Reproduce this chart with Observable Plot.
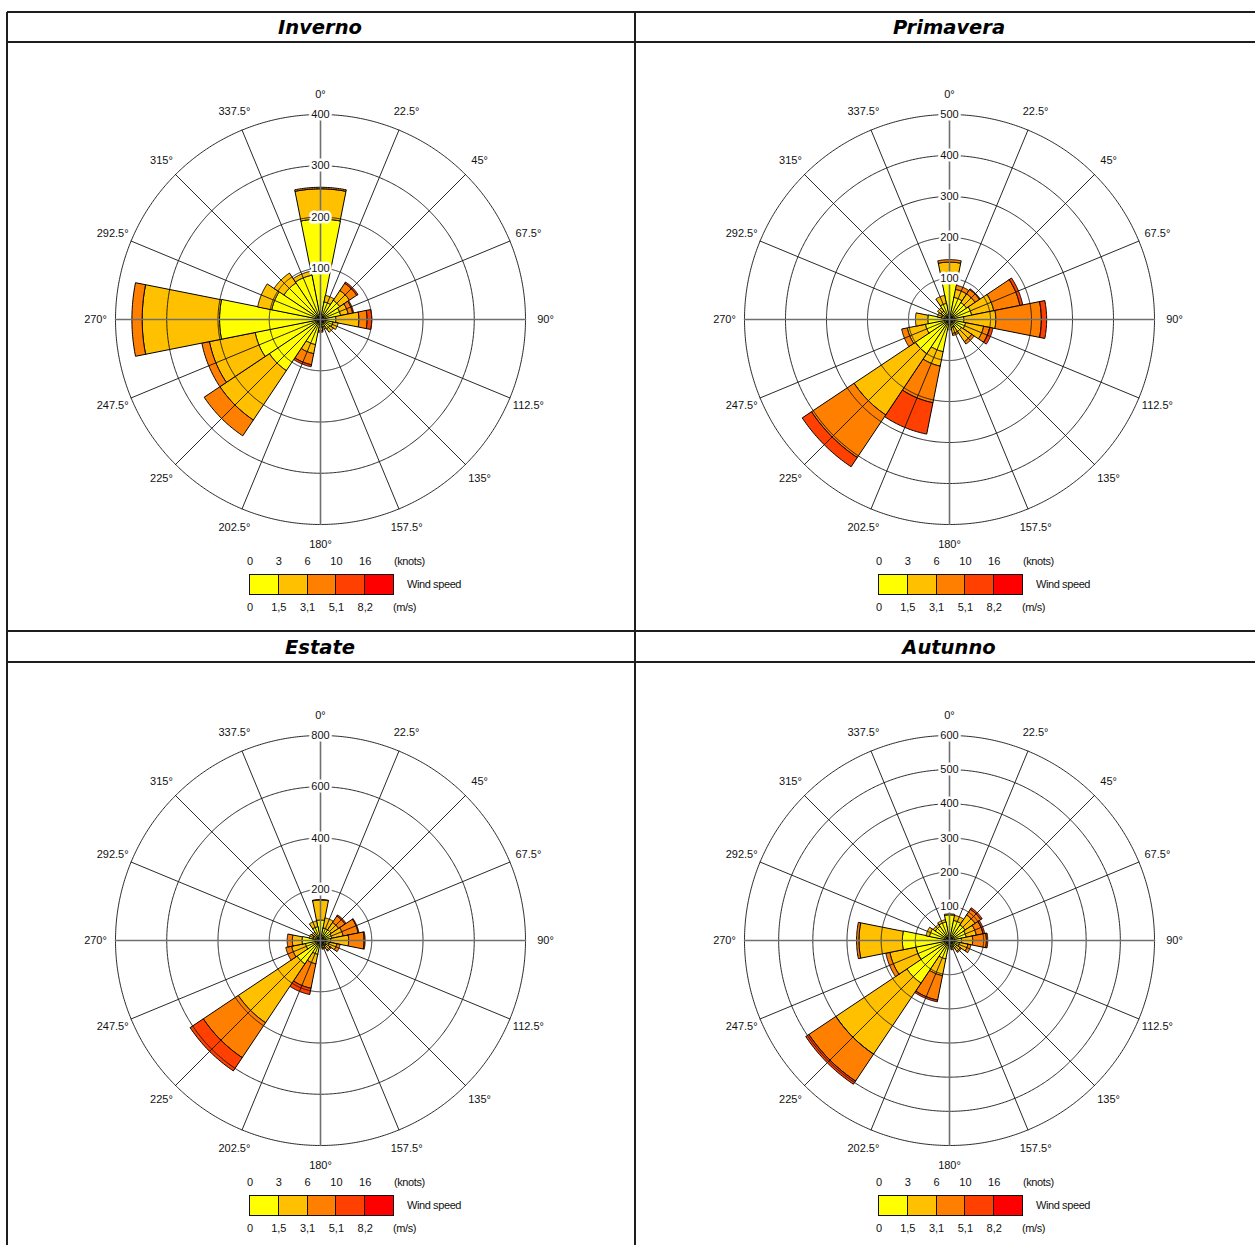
<!DOCTYPE html>
<html><head><meta charset="utf-8">
<script src="https://cdn.jsdelivr.net/npm/d3@7"></script>
<script src="https://cdn.jsdelivr.net/npm/@observablehq/plot@0.6"></script>
<style>
html,body{margin:0;padding:0;background:#fff;}
body{width:1255px;height:1245px;overflow:hidden;position:relative;font-family:"Liberation Sans",Arial,sans-serif;color:#111;}
.line{position:absolute;background:#1e1e1e;}
.title{position:absolute;font-family:"DejaVu Sans",Verdana,sans-serif;font-weight:bold;font-style:italic;font-size:19.5px;color:#000;transform:translate(-50%,-50%);white-space:nowrap;}
.lab{position:absolute;font-size:11px;transform:translate(-50%,-50%);white-space:nowrap;color:#111;}
.labl{position:absolute;font-size:11px;transform:translate(0,-50%);white-space:nowrap;color:#111;letter-spacing:-0.4px;}
.cell{position:absolute;border:1px solid #111;box-sizing:border-box;}
svg{position:absolute;}
</style></head><body>
<script>
// ---------- data ----------
const directions = [0,22.5,45,67.5,90,112.5,135,157.5,180,202.5,225,247.5,270,292.5,315,337.5];
const directionLabels = ["0°","22.5°","45°","67.5°","90°","112.5°","135°","157.5°","180°","202.5°","225°","247.5°","270°","292.5°","315°","337.5°"];
const seasons = ["Inverno","Primavera","Estate","Autunno"];
const speedClasses = ["0-1,5","1,5-3,1","3,1-5,1","5,1-8,2",">8,2"];
const speedColors = ["#FFFF00","#FFC000","#FF8000","#FF4000","#FF0000"];
const knotsTicks = ["0","3","6","10","16"];
const msTicks = ["0","1,5","3,1","5,1","8,2"];

const invernoRings = [100,200,300,400];
const primaveraRings = [100,200,300,400,500];
const estateRings = [200,400,600,800];
const autunnoRings = [100,200,300,400,500,600];

// counts per direction for each speed class
const invernoClass1 = [196,35,45,40,30,25,22,15,15,50,120,130,197,97,86,88];
const invernoClass2 = [59,13,23,15,45,10,8,5,7,18,116,91,151,28,23,8];
const invernoClass3 = [3,0,17,9,16,0,0,0,3,22,37,15,20,0,0,0];
const invernoClass4 = [0,0,3,2,9,0,0,0,0,4,0,0,0,0,0,0];
const invernoClass5 = [0,0,0,0,0,0,0,0,0,0,0,0,0,0,0,0];

const primaveraClass1 = [100,55,50,55,35,40,35,20,15,80,100,60,53,20,25,40];
const primaveraClass2 = [40,20,25,55,78,45,30,15,10,36,180,45,30,10,10,20];
const primaveraClass3 = [6,10,13,65,111,15,7,5,0,91,125,14,0,0,0,0];
const primaveraClass4 = [0,0,2,7,13,8,0,0,0,78,27,0,0,0,0,0];
const primaveraClass5 = [0,0,0,0,0,0,0,0,0,0,0,0,0,0,0,0];

const estateClass1 = [80,50,50,45,40,35,25,20,18,55,110,60,72,30,28,55];
const estateClass2 = [78,40,35,45,70,30,20,10,10,38,276,55,38,15,12,23];
const estateClass3 = [2,0,30,60,60,13,5,5,0,97,164,23,20,0,0,0];
const estateClass4 = [0,0,5,3,4,0,0,0,0,25,62,0,0,0,0,0];
const estateClass5 = [0,0,0,0,0,0,0,0,0,0,0,0,0,0,0,0];

const autunnoClass1 = [75,60,55,50,35,30,25,20,18,55,150,100,138,60,50,55];
const autunnoClass2 = [3,15,35,30,33,25,13,8,7,50,250,78,127,10,7,7];
const autunnoClass3 = [0,0,20,20,40,9,4,0,0,73,95,12,7,0,0,0];
const autunnoClass4 = [0,0,5,5,4,0,0,0,0,5,11,0,0,0,0,0];
const autunnoClass5 = [0,0,0,0,0,0,0,0,0,0,0,0,0,0,0,0];

// ---------- layout helpers ----------
const B = document.body;
function el(cls, style, text){const d=document.createElement("div");d.className=cls;Object.assign(d.style,style);if(text!=null)d.textContent=text;B.appendChild(d);return d;}
// table lines
const colX = [7,635,1263];
const rowY = [12,42,631,662];
rowY.forEach(y=>el("line",{left:"7px",top:(y-0.75)+"px",width:"1260px",height:"1.5px"}));
colX.forEach(x=>el("line",{left:(x-0.75)+"px",top:"12px",width:"1.5px",height:"1240px"}));

const panels = [
  {title:seasons[0], classes:[invernoClass1,invernoClass2,invernoClass3,invernoClass4,invernoClass5], rings:invernoRings, cx:320, cy:319, hy:27},
  {title:seasons[1], classes:[primaveraClass1,primaveraClass2,primaveraClass3,primaveraClass4,primaveraClass5], rings:primaveraRings, cx:949, cy:319, hy:27},
  {title:seasons[2], classes:[estateClass1,estateClass2,estateClass3,estateClass4,estateClass5], rings:estateRings, cx:320, cy:940, hy:647},
  {title:seasons[3], classes:[autunnoClass1,autunnoClass2,autunnoClass3,autunnoClass4,autunnoClass5], rings:autunnoRings, cx:949, cy:940, hy:647},
];

const HALF = 240;      // half size of svg
const D = 60;          // degrees mapped to HALF px
const RPX = 205;       // outer ring radius (px)
const LPX = 225;       // direction label radius (px)

function rose(p){
  const M = d3.max(p.rings);
  const k = D * RPX / HALF / M;          // degrees per count unit
  const lat = v => 90 - v * k;
  const lon = a => 180 - a;
  const wedges = [];
  directions.forEach((dir,i)=>{
    let base = 0;
    p.classes.forEach((arr,c)=>{
      const v = arr[i];
      if(!(v>0)) return;
      const r0 = Math.max(base, 0.02), r1 = base + v;
      base = r1;
      const ring = [];
      const a0 = dir - 11.25, a1 = dir + 11.25;
      for(let s=0;s<=30;s++){const a=a0+(a1-a0)*s/30; ring.push([lon(a), lat(r0)]);}
      for(let s=30;s>=0;s--){const a=a0+(a1-a0)*s/30; ring.push([lon(a), lat(r1)]);}
      ring.push(ring[0]);
      const f = {type:"Feature", properties:{cls:speedClasses[c]}, geometry:{type:"Polygon", coordinates:[ring]}};
      if(d3.geoArea(f) > 2*Math.PI) ring.reverse();
      wedges.push(f);
    });
  });
  const circles = p.rings.map(v => d3.geoCircle().center([0,90]).radius(v*k).precision(0.5)());
  const spokes = directions.map(a => ({type:"LineString", coordinates:[[lon(a),90],[lon(a),lat(M)]], axis: a % 90 === 0}));
  const labelV = M * LPX / RPX;
  return Plot.plot({
    width: HALF*2, height: HALF*2, margin: 0,
    style:{fontFamily:"'Liberation Sans', Arial, sans-serif", fontSize:"11px", background:"transparent", overflow:"visible"},
    projection:{type:"azimuthal-equidistant", rotate:[0,-90], domain:d3.geoCircle().center([0,90]).radius(D)(), inset:0},
    color:{domain:speedClasses, range:speedColors},
    marks:[
      Plot.geo(wedges, {fill: d => d.properties.cls, stroke:"#000", strokeWidth:1}),
      Plot.geo(circles, {fill:"none", stroke:"#111", strokeWidth:0.9}),
      Plot.geo(spokes.filter(s=>!s.axis), {stroke:"#111", strokeWidth:0.9}),
      Plot.geo(spokes.filter(s=>s.axis), {stroke:"#707070", strokeWidth:1.6}),
      Plot.text(p.rings, {x: () => lon(0), y: v => lat(v), text: v => String(v), fill:"#111", stroke:"white", strokeWidth:5, fontSize:11}),
      Plot.text(directions, {x: a => lon(a), y: a => lat(labelV), text: (a,i) => directionLabels[i], fill:"#111", fontSize:11})
    ]
  });
}

panels.forEach(p=>{
  el("title",{left:p.cx+"px",top:p.hy+"px"},p.title);
  const svg = rose(p);
  svg.style.left = (p.cx-HALF)+"px";
  svg.style.top = (p.cy-HALF)+"px";
  B.appendChild(svg);
  // legend
  const bx = p.cx - 71, by = p.cy + 255, cw = 28.8;
  speedColors.forEach((c,i)=>{
    el("cell",{left:(bx+i*cw)+"px",top:by+"px",width:(cw+1)+"px",height:"21px",background:c});
  });
  knotsTicks.forEach((t,i)=>el("lab",{left:(bx+i*cw+1)+"px",top:(p.cy+242)+"px"},t));
  msTicks.forEach((t,i)=>el("lab",{left:(bx+i*cw+1)+"px",top:(p.cy+288)+"px"},t));
  el("labl",{left:(p.cx+74)+"px",top:(p.cy+242)+"px"},"(knots)");
  el("labl",{left:(p.cx+87)+"px",top:(p.cy+265)+"px"},"Wind speed");
  el("labl",{left:(p.cx+73)+"px",top:(p.cy+288)+"px"},"(m/s)");
});
</script>
</body></html>
